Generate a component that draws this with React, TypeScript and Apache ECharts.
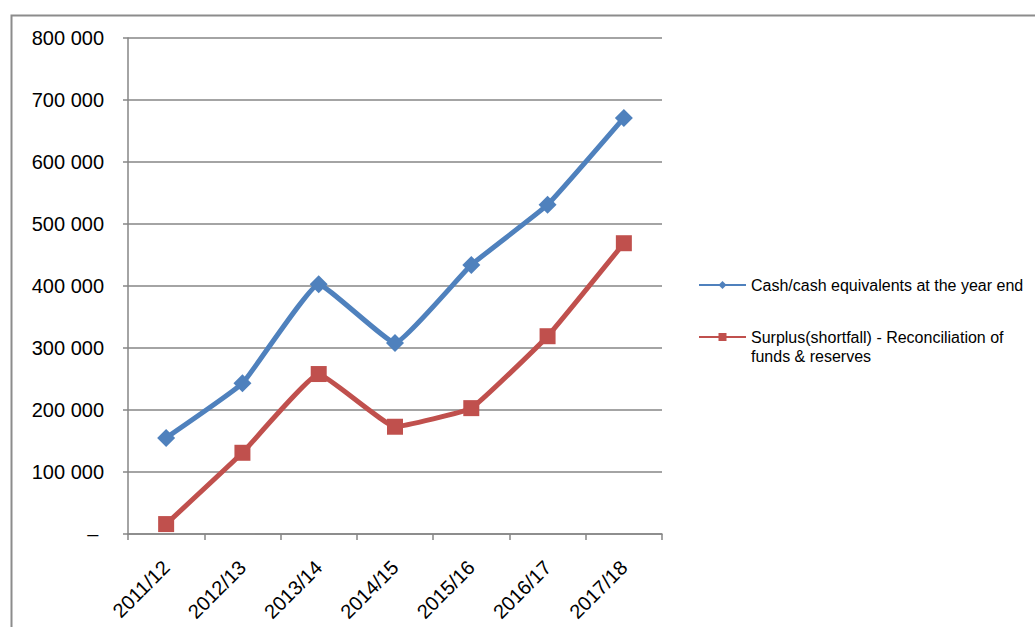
import React, { useEffect, useRef } from "react";
import * as echarts from "echarts";

const categories = ["2011/12", "2012/13", "2013/14", "2014/15", "2015/16", "2016/17", "2017/18"];
const cashValues = [155000, 243000, 403000, 308000, 434000, 531000, 671000];
const surplusValues = [16000, 131000, 258000, 173000, 203000, 319000, 469000];
const cashName = "Cash/cash equivalents at the year end";
const surplusName = "Surplus(shortfall) - Reconciliation of\nfunds & reserves";

const FONT = "'Liberation Sans', Arial, sans-serif";

function fmt(v: number): string {
  if (v === 0) return "– ";
  return String(Math.round(v)).replace(/\B(?=(\d{3})+(?!\d))/g, " ");
}

export default function App() {
  const ref = useRef<HTMLDivElement>(null);
  useEffect(() => {
    if (!ref.current) return;
    const chart = echarts.init(ref.current, undefined, { renderer: "svg" });
    const grid = "#868686";
    chart.setOption({
      animation: false,
      backgroundColor: "#ffffff",
      textStyle: { fontFamily: FONT },
      graphic: [
        {
          type: "rect",
          left: 9,
          top: 13,
          shape: { width: 1100, height: 700 },
          style: { fill: "none", stroke: "#8c8c8c", lineWidth: 2 },
          z: -1,
        },
      ],
      grid: { left: 128, top: 38, width: 534, height: 496 },
      xAxis: {
        type: "category",
        data: categories,
        boundaryGap: true,
        axisLine: { lineStyle: { color: grid, width: 1.5 } },
        axisTick: { show: true, length: 6, inside: false, alignWithLabel: false, lineStyle: { color: grid, width: 1.5 } },
        axisLabel: { rotate: 45, margin: 30, color: "#000", fontSize: 20, fontFamily: FONT, interval: 0 },
        splitLine: { show: false },
      },
      yAxis: {
        type: "value",
        min: 0,
        max: 800000,
        interval: 100000,
        axisLine: { show: true, lineStyle: { color: grid, width: 1.5 } },
        axisTick: { show: true, length: 5, lineStyle: { color: grid, width: 1.5 } },
        axisLabel: { margin: 24, color: "#000", fontSize: 20, fontFamily: FONT, formatter: (v: number) => fmt(v) },
        splitLine: { show: true, lineStyle: { color: grid, width: 1.5 } },
      },
      legend: {
        orient: "vertical",
        left: 698,
        top: 275.5,
        padding: 0,
        itemWidth: 47,
        itemHeight: 10,
        itemGap: 14,
        data: [cashName, surplusName],
        formatter: (name: string) => (name === surplusName ? "\n" + name : name),
        textStyle: { fontSize: 16, color: "#000", fontFamily: FONT, lineHeight: 19 },
      },
      series: [
        {
          name: cashName,
          type: "line",
          data: cashValues,
          smooth: 0.1,
          symbol: "diamond",
          symbolSize: 18,
          lineStyle: { color: "#4F81BD", width: 5 },
          itemStyle: { color: "#4F81BD" },
        },
        {
          name: surplusName,
          type: "line",
          data: surplusValues,
          smooth: 0.1,
          symbol: "rect",
          symbolSize: 16,
          lineStyle: { color: "#C0504D", width: 5 },
          itemStyle: { color: "#C0504D" },
        },
      ],
    });
    return () => chart.dispose();
  }, []);
  return (
    <div
      ref={ref}
      style={{ position: "fixed", left: 0, top: 0, width: 1035, height: 627, background: "#fff" }}
    />
  );
}
